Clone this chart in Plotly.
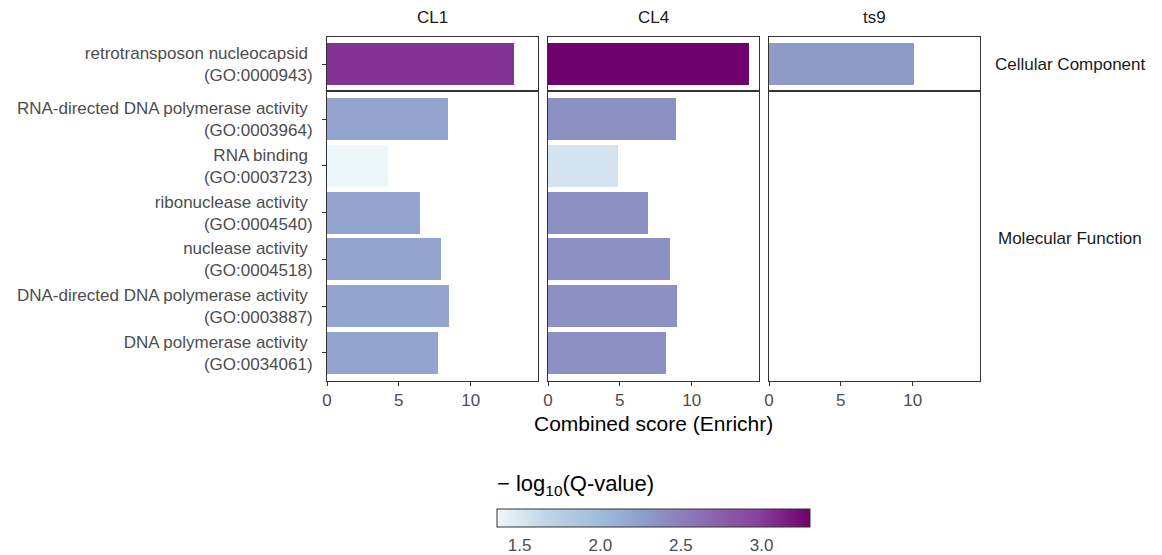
import plotly.graph_objects as go

# GO terms per ontology (top-to-bottom order)
terms_cc = ["retrotransposon nucleocapsid\u00a0<br>(GO:0000943)"]
terms_mf = [
    "RNA-directed DNA polymerase activity\u00a0<br>(GO:0003964)",
    "RNA binding\u00a0<br>(GO:0003723)",
    "ribonuclease activity\u00a0<br>(GO:0004540)",
    "nuclease activity\u00a0<br>(GO:0004518)",
    "DNA-directed DNA polymerase activity\u00a0<br>(GO:0003887)",
    "DNA polymerase activity\u00a0<br>(GO:0034061)",
]

samples = ["CL1", "CL4", "ts9"]
ontologies = ["Cellular Component", "Molecular Function"]

# Combined score (Enrichr)
score_cc = {"CL1": [13.04], "CL4": [13.99], "ts9": [10.10]}
score_mf = {
    "CL1": [8.43, 4.22, 6.48, 7.94, 8.50, 7.73],
    "CL4": [8.94, 4.86, 6.95, 8.48, 9.01, 8.22],
    "ts9": [],
}

# -log10(Q-value)
q_cc = {"CL1": [3.05], "CL4": [3.30], "ts9": [2.30]}
q_mf = {
    "CL1": [2.20, 1.36, 2.20, 2.20, 2.20, 2.20],
    "CL4": [2.37, 1.54, 2.37, 2.37, 2.37, 2.37],
    "ts9": [],
}

colorbar_ticks = [1.5, 2.0, 2.5, 3.0]

bupu7 = ["#edf8fb", "#bfd3e6", "#9ebcda", "#8c96c6", "#8c6bb1", "#88419d", "#6e016b"]
colorscale = [[i / 6, c] for i, c in enumerate(bupu7)]

all_q = [v for d in (q_cc, q_mf) for s in samples for v in d[s]]
all_score = [v for d in (score_cc, score_mf) for s in samples for v in d[s]]
qmin, qmax = min(all_q), max(all_q)
xmax = max(all_score) * 1.05

W, H = 1162, 555
def px_x(p):
    return p / W
def px_y(p):
    return 1 - p / H

FONT = "Liberation Sans, Arial, sans-serif"
col_px = [(327, 538), (548, 759), (769, 980)]
row_px = [(37, 91), (91, 381)]
row_terms = [terms_cc, terms_mf]
row_scores = [score_cc, score_mf]
row_q = [q_cc, q_mf]
row_range = [[0.577, -0.577], [5.6, -0.6]]

fig = go.Figure()
layout_axes = {}
border = "#333333"
tick_font = dict(family=FONT, size=17, color="#4d4d4d")

for r in range(2):
    for c, s in enumerate(samples):
        k = r * 3 + c + 1
        xname = "x" if k == 1 else f"x{k}"
        yname = "y" if k == 1 else f"y{k}"
        if row_scores[r][s]:
            fig.add_trace(go.Bar(
                x=row_scores[r][s],
                y=row_terms[r],
                orientation="h",
                width=0.9,
                marker=dict(color=row_q[r][s], coloraxis="coloraxis", line=dict(width=0)),
                xaxis=xname, yaxis=yname,
                showlegend=False,
                hovertemplate="%{x}<extra></extra>",
            ))
        else:
            # empty panel: zero-length bars keep the categories in place
            fig.add_trace(go.Bar(
                x=[0] * len(row_terms[r]), y=row_terms[r], orientation="h",
                xaxis=xname, yaxis=yname, showlegend=False, hoverinfo="skip",
                marker=dict(color="rgba(0,0,0,0)", line=dict(width=0)),
            ))
        bottom = r == 1
        layout_axes["xaxis" if k == 1 else f"xaxis{k}"] = dict(
            domain=[px_x(col_px[c][0]), px_x(col_px[c][1])],
            anchor=yname,
            range=[0, xmax],
            tickvals=[0, 5, 10],
            showticklabels=bottom,
            ticks="outside" if bottom else "",
            ticklen=4, tickwidth=1, tickcolor=border,
            tickfont=tick_font,
            showline=True, mirror=True, linecolor=border, linewidth=1,
            showgrid=False, zeroline=False, fixedrange=True,
        )
        left = c == 0
        layout_axes["yaxis" if k == 1 else f"yaxis{k}"] = dict(
            domain=[px_y(row_px[r][1]), px_y(row_px[r][0])],
            anchor=xname,
            type="category",
            categoryorder="array", categoryarray=row_terms[r],
            range=row_range[r],
            showticklabels=left,
            ticks="outside" if left else "",
            ticklen=4, tickwidth=1, tickcolor=border,
            tickfont=tick_font,
            ticklabelstandoff=6,
            showline=True, mirror=True, linecolor=border, linewidth=1,
            showgrid=False, zeroline=False, fixedrange=True,
        )

annotations = []
strip_font = dict(family=FONT, size=17, color="#1a1a1a")
for c, s in enumerate(samples):
    annotations.append(dict(
        text=s, x=px_x((col_px[c][0] + col_px[c][1]) / 2), y=px_y(17),
        xref="paper", yref="paper", showarrow=False, font=strip_font,
        xanchor="center", yanchor="middle",
    ))
for r, name in enumerate(ontologies):
    annotations.append(dict(
        text=name, x=px_x(1070), y=px_y((row_px[r][0] + row_px[r][1]) / 2 + (0 if r == 0 else 2)),
        xref="paper", yref="paper", showarrow=False, font=strip_font,
        xanchor="center", yanchor="middle",
    ))
annotations.append(dict(
    text="Combined score (Enrichr)", x=px_x(653.5), y=px_y(423),
    xref="paper", yref="paper", showarrow=False,
    font=dict(family=FONT, size=21, color="#000000"),
    xanchor="center", yanchor="middle",
))
# colour bar title, left-aligned with the bar
annotations.append(dict(
    text="\u2212 log<sub>10</sub>(Q-value)", x=px_x(495), y=px_y(485),
    xref="paper", yref="paper", showarrow=False,
    font=dict(family=FONT, size=22, color="#000000"),
    xanchor="left", yanchor="middle",
))

fig.update_layout(
    width=W, height=H,
    margin=dict(l=0, r=0, t=0, b=0, autoexpand=False),
    paper_bgcolor="white", plot_bgcolor="white",
    bargap=0,
    annotations=annotations,
    coloraxis=dict(
        colorscale=colorscale, cmin=qmin, cmax=qmax,
        colorbar=dict(
            orientation="h",
            x=px_x(653.5), xanchor="center",
            y=px_y(509), yanchor="top",
            len=313, lenmode="pixels",
            thickness=18, thicknessmode="pixels",
            outlinecolor="#333333", outlinewidth=1,
            tickvals=colorbar_ticks,
            ticktext=[f"{t:.1f}" for t in colorbar_ticks],
            ticks="outside", ticklen=4, tickwidth=1, tickcolor="rgba(0,0,0,0)",
            tickfont=tick_font,
            xpad=0, ypad=0,
        ),
    ),
    **layout_axes,
)

fig.write_html("out.html")
